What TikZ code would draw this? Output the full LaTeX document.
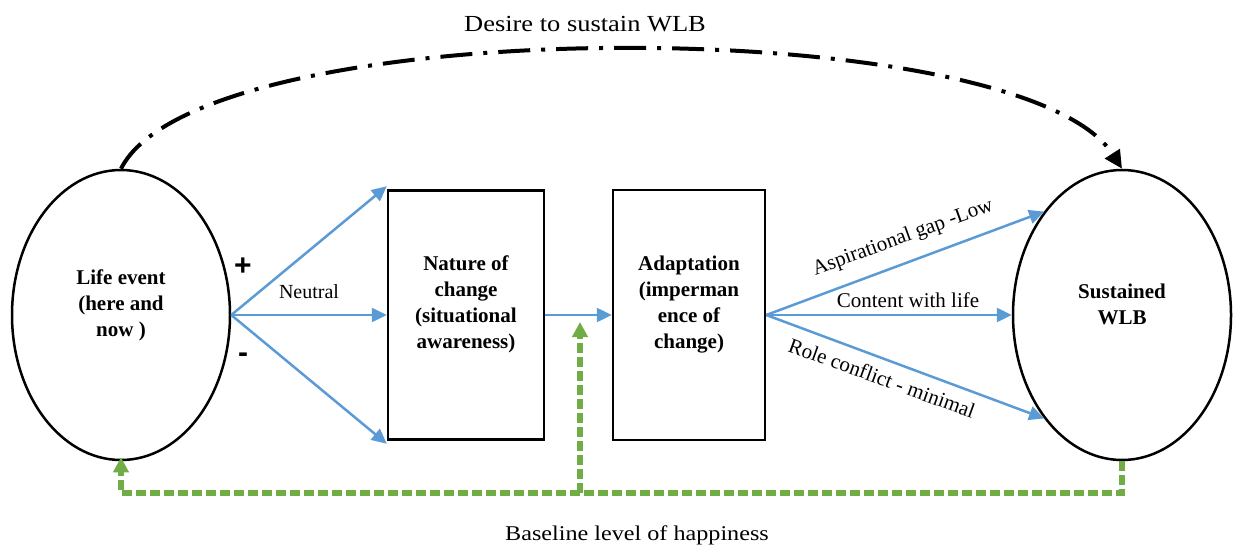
\documentclass[tikz,border=0pt]{standalone}
\usepackage{fontspec}
\setmainfont{Liberation Serif}
\setsansfont{Liberation Sans}
\usepackage{graphicx}
\usetikzlibrary{arrows.meta,shapes.geometric}
\definecolor{blu}{HTML}{5B9BD5}
\definecolor{grn}{HTML}{70AD47}
\begin{document}
\begin{tikzpicture}[x=1pt,y=-1pt,
  oval/.style={draw,line width=2.5pt,ellipse,minimum width=218pt,minimum height=290pt,inner sep=0pt},
  boxnode/.style={draw,line width=2.5pt,rectangle,inner sep=0pt},
  btxt/.style={font=\fontsize{21}{26}\selectfont\bfseries,align=center,inner sep=0pt},
  lbl/.style={font=\fontsize{21}{25}\selectfont,inner sep=0pt},
  sgn/.style={font=\fontsize{30}{30}\selectfont\sffamily\bfseries,inner sep=0pt},
  barrow/.style={draw=blu,line width=2.5pt,-{Triangle[length=15pt,width=14pt]}},
  garrow/.style={draw=grn,line width=5.5pt,dash pattern=on 10pt off 4pt,-{Triangle[length=15pt,width=15pt]}},
  dasharrow/.style={draw=black,line width=4pt,dash pattern=on 32pt off 11pt on 4pt off 11pt,-{Triangle[length=18pt,width=17pt]}}
]
\useasboundingbox (0,0) rectangle (1233,548);

% main shapes
\node[oval] (le) at (121,315) {};
\node[oval] (re) at (1122,315) {};
\node[boxnode,minimum width=156pt,minimum height=249pt] (b1) at (466,315) {};
\node[boxnode,minimum width=152pt,minimum height=250pt] (b2) at (689,315) {};

% texts in shapes
\node[btxt] (t1) at (121,305) {Life event\\(here and\\now )};
\node[btxt] (t2) at (466,304) {Nature of\\change\\(situational\\awareness)};
\node[btxt] (t3) at (689,305) {Adaptation\\(imperman\\ence of\\change)};
\node[btxt] (t4) at (1122,304) {Sustained\\WLB};

% signs and labels
\node[sgn] (plus) at (243,267) {+};
\node[sgn] (minus) at (243,358) {-};
\node[lbl,font=\fontsize{20}{24}\selectfont] (neutral) at (309,292) {Neutral};
\node[lbl,rotate=20] (asp) at (903,238) {Aspirational gap -Low};
\node[lbl] (cont) at (908,300) {Content with life};
\node[lbl,rotate=-20] (role) at (882,378) {Role conflict - minimal};
\node[lbl,font=\fontsize{23}{26}\selectfont] (desire) at (585,24) {\scalebox{1.15}[1]{Desire to sustain WLB}};
\node[lbl,font=\fontsize{21}{25}\selectfont] (base) at (637,535) {\scalebox{1.15}[1]{Baseline level of happiness}};

% blue arrows
\draw[barrow] (le.east) -- ([yshift=3pt]b1.north west);
\draw[barrow] (le.east) -- (b1.west);
\draw[barrow] (le.east) -- ([yshift=-3pt]b1.south west);
\draw[barrow] (b1.east) -- (b2.west);
\draw[barrow] (b2.east) -- (re.127);
\draw[barrow] (b2.east) -- (re.west);
\draw[barrow] (b2.east) -- (re.233);

% top dash-dot curve
\draw[dasharrow] (le.north) .. controls (200,10) and (1020,10) .. (re.north);

% green feedback
\coordinate (gb) at (0,493);
\coordinate (gm) at (580,322);
\draw[garrow] (re.south) -- (re.south |- gb) -- (le.south |- gb) -- ([yshift=4pt]le.south);
\draw[garrow] (gm |- gb) -- (gm);
\end{tikzpicture}
\end{document}
